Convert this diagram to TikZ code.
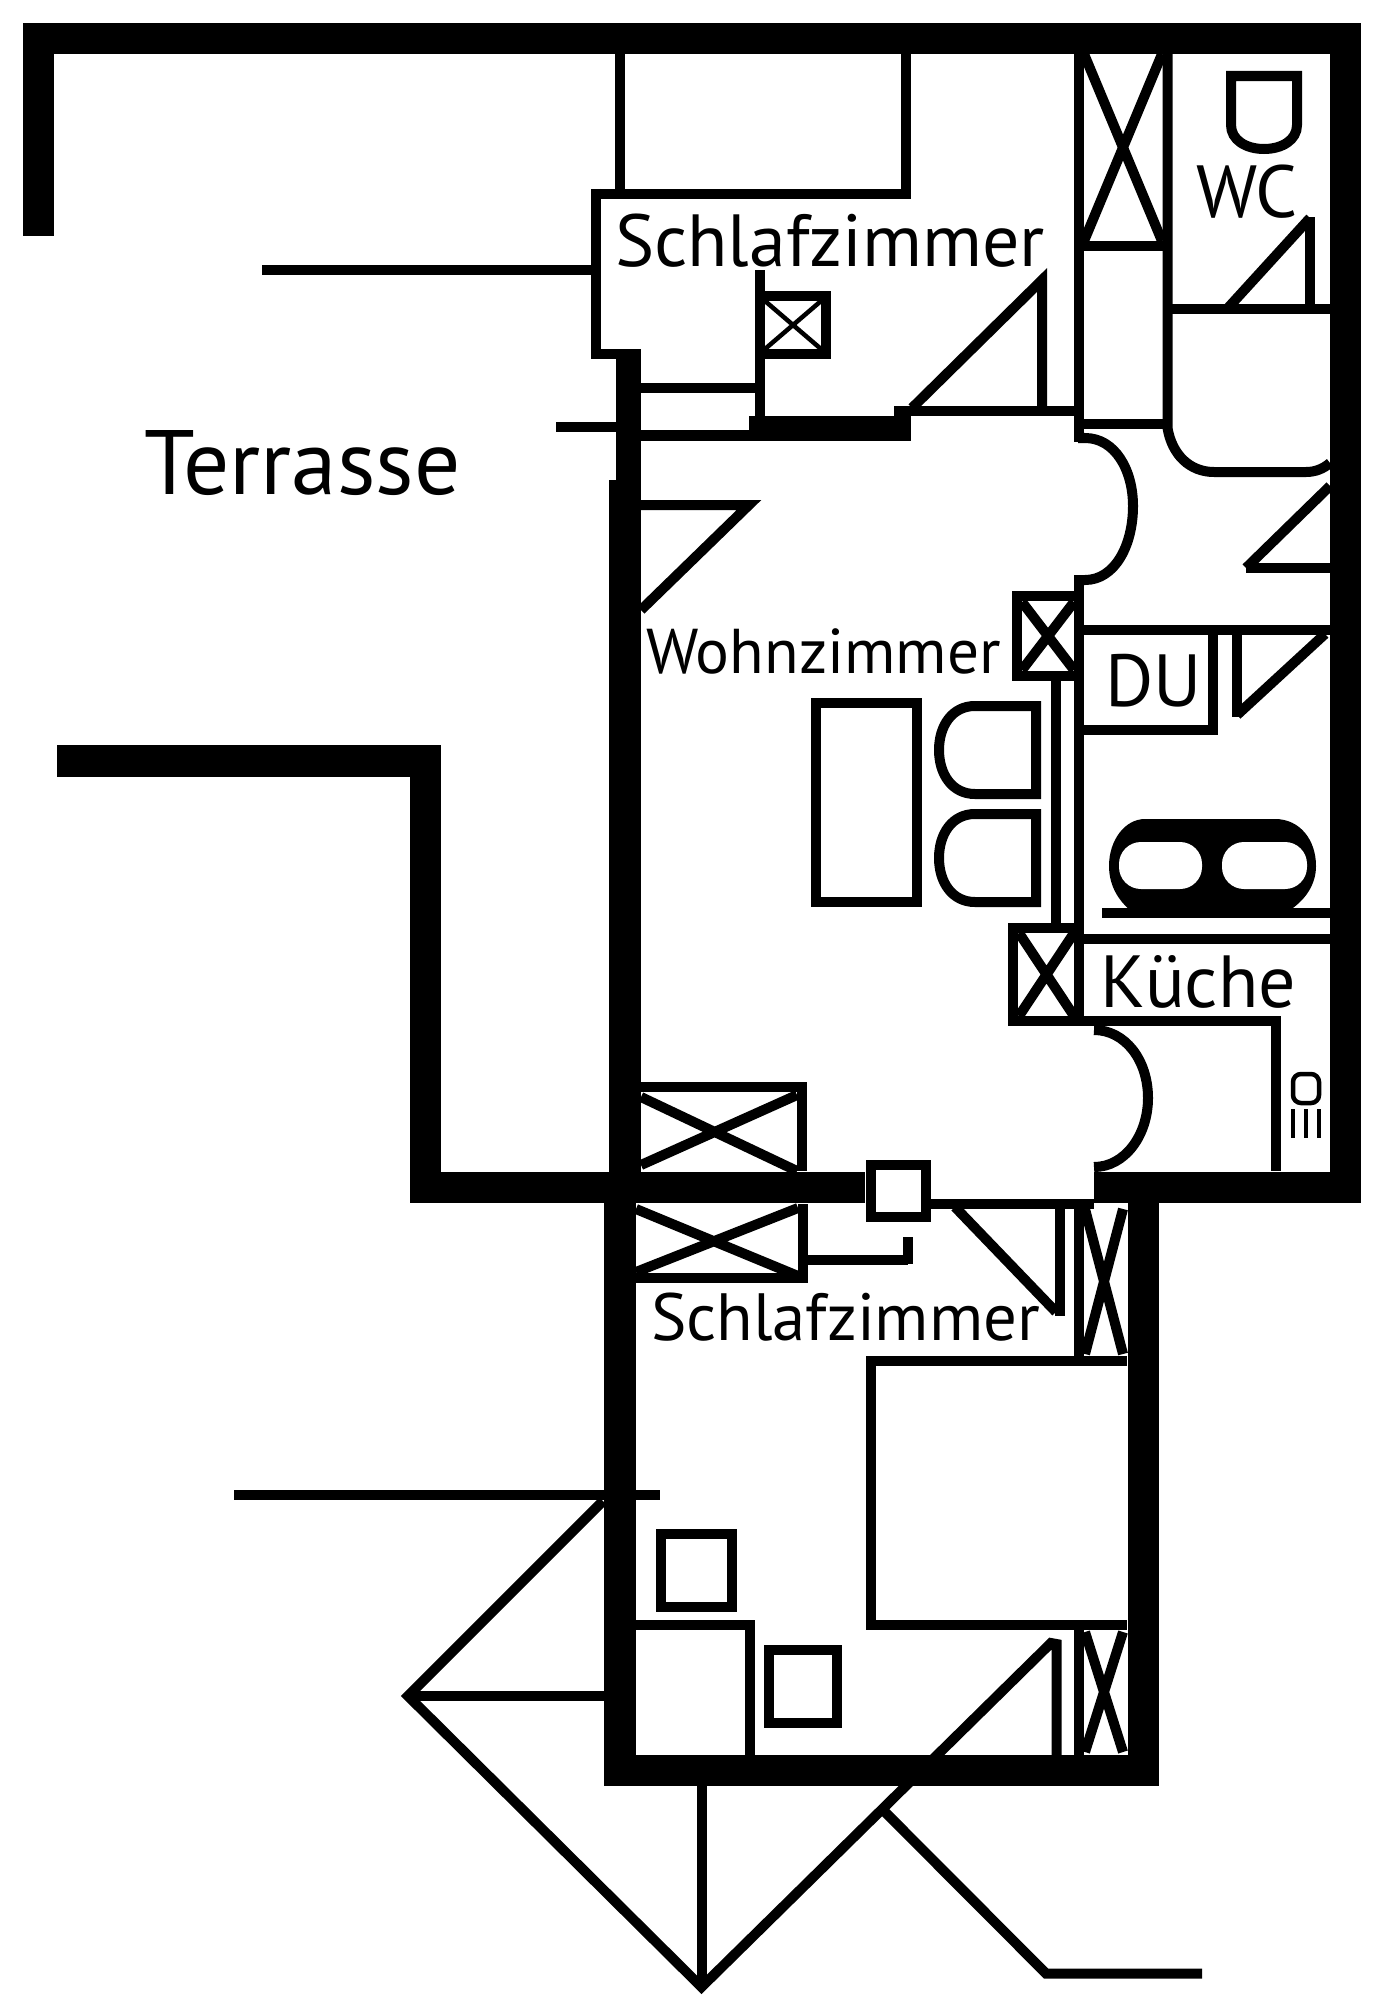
\documentclass[tikz,border=0pt]{standalone}
\usepackage{fontspec}
\setmainfont{PT Sans}
\tikzset{
  wall/.style={draw,line width=3.1mm,miter limit=10},
  partition/.style={draw,line width=1mm,miter limit=20},
  fineline/.style={draw,line width=.45mm},
  blackfill/.style={fill=black},
  roomlabel/.style={anchor=base west,inner sep=0pt,outer sep=0pt,font=\fontsize{21}{21}\selectfont},
  hob/.style={fill=white,rounded corners=.22cm}
}
\begin{document}
\begin{tikzpicture}[x=.01cm,y=-.01cm]
\path[use as bounding box] (0,0) rectangle (1384,2000);

% outer walls
\draw[wall] (38.5,236) -- (38.5,38.5) -- (1345,38.5) -- (1345,1187.5) -- (1094,1187.5);
\draw[wall] (57,761) -- (425.5,761) -- (425.5,1187.5) -- (865,1187.5);
\draw[wall] (620,1172) -- (620,1770.5) -- (1143,1770.5) -- (1143,1172);
\fill[blackfill] (616,349) rectangle (641,480);
\fill[blackfill] (609,480) rectangle (641,1172);
\fill[blackfill] (749,416) rectangle (911,441);
\fill[blackfill] (894,406) rectangle (911,416);

% upper bedroom
\draw[partition] (620,54) -- (620,194);
\draw[partition] (906,54) -- (906,194);
\draw[partition] (596,194) -- (911,194);
\draw[partition] (596,189) -- (596,354) -- (641,354);
\draw[partition] (262,270) -- (596,270);
\draw[partition] (556,427) -- (616,427);
\draw[partition] (641,388) -- (759.5,388);
\draw[partition] (759.5,270) -- (759.5,416);
\draw[partition] (641,435.5) -- (749,435.5);
\draw[partition] (760,296) rectangle (826,354);
\draw[fineline] (765,301) -- (821,349) (821,301) -- (765,349);
\draw[partition] (894,411) -- (1078,411);
\draw[partition] (1042,411) -- (1042,280) -- (912,408);

% closet and bath
\draw[partition] (1078.5,54) -- (1078.5,442);
\draw[partition] (1167.5,54) -- (1167.5,428) .. controls (1172,455) and (1190,472) .. (1214,472) -- (1306,472) .. controls (1315,472) and (1323,469) .. (1330,463);
\draw[partition] (1084,54) -- (1162,241) (1162,54) -- (1084,241);
\draw[partition] (1078,246) -- (1168,246);
\draw[partition] (1078,424) -- (1168,424);
\draw[partition] (1168,309) -- (1330,309);
\draw[partition] (1310,309) -- (1310,217);
\draw[partition] (1227,309) -- (1310,218);
\draw[partition] (1231,154) ++(0,-78) -- (1297,76) -- (1297,125) .. controls (1297,140) and (1282,149) .. (1264,149) .. controls (1246,149) and (1231,140) .. (1231,125) -- cycle;
\draw[partition] (1246,568) -- (1330,568);
\draw[partition] (1246,568) -- (1330,486);

% living room
\draw[partition] (1078,438) -- (1085,438) .. controls (1115,438) and (1133,470) .. (1133,506) .. controls (1133,545) and (1115,580) .. (1085,580) -- (1078,580);
\draw[partition] (1079,575) -- (1079,1026);
\draw[partition] (641,505) -- (749,505) -- (641,610);
\draw[partition] (1017,596) rectangle (1079,676);
\draw[partition] (1022,602) -- (1074,670) (1074,602) -- (1022,670);
\draw[partition] (1056,681) -- (1056,928);
\draw[partition] (1013,928) rectangle (1079,1021);
\draw[partition] (1019,933) -- (1074,1016) (1074,933) -- (1019,1016);
\draw[partition] (816,703) rectangle (917,902);
\draw[partition] (1036,706) -- (975,706) .. controls (952,706) and (939,726) .. (939,750) .. controls (939,774) and (952,794) .. (975,794) -- (1036,794) -- cycle;
\draw[partition] (1036,814) -- (975,814) .. controls (952,814) and (939,834) .. (939,858) .. controls (939,882) and (952,902) .. (975,902) -- (1036,902) -- cycle;
\draw[partition] (641,1087) -- (802,1087) -- (802,1171);
\draw[partition] (641,1097) -- (797,1171) (641,1165) -- (797,1095);

% shower and kitchen
\draw[partition] (1079,630) -- (1330,630);
\draw[partition] (1213,630) -- (1213,735);
\draw[partition] (1079,730) -- (1218,730);
\draw[partition] (1237,630) -- (1237,717);
\draw[partition] (1237,715) -- (1325,634);
\fill[blackfill] (1145,819) -- (1275,819) .. controls (1300,819) and (1316,840) .. (1316,866) .. controls (1316,885) and (1305,900) .. (1290,910) -- (1130,910) .. controls (1118,900) and (1109,885) .. (1109,866) .. controls (1109,840) and (1125,819) .. (1145,819);
\fill[hob] (1119,842) rectangle (1202,889);
\fill[hob] (1222,842) rectangle (1307,889);
\draw[partition] (1102,912.5) -- (1330,912.5);
\draw[partition] (1079,939) -- (1330,939);
\draw[partition] (1079,1021) -- (1276,1021) -- (1276,1171);
\draw[partition] (1094,1030) .. controls (1125,1030) and (1148,1060) .. (1148,1098) .. controls (1148,1135) and (1125,1167) .. (1094,1167);
\draw[fineline,rounded corners=.08cm] (1293,1074) rectangle (1319,1103);
\draw[fineline] (1293,1109) -- (1293,1138);
\draw[fineline] (1306,1109) -- (1306,1138);
\draw[fineline] (1319,1109) -- (1319,1138);

% lower bedroom
\draw[partition] (870.5,1165) rectangle (925.5,1216.5);
\fill[white] (876,1171) rectangle (921,1211);
\draw[partition] (921,1204) -- (1094,1204);
\draw[partition] (636,1278) -- (803,1278) -- (803,1204);
\draw[partition] (636,1209) -- (798,1276) (636,1272) -- (798,1208);
\draw[partition] (808,1260) -- (908,1260);
\draw[partition] (908,1237) -- (908,1264);
\draw[partition] (955,1207) -- (1056,1312);
\draw[partition] (1060,1204) -- (1060,1316);
\draw[partition] (1079,1204) -- (1079,1360);
\draw[partition] (1085,1209) -- (1123,1354) (1123,1209) -- (1085,1354);
\draw[partition] (1127,1360.5) -- (871,1360.5) -- (871,1625) -- (1127,1625);
\draw[partition] (1079,1625) -- (1079,1755);
\draw[partition] (1085,1632) -- (1123,1752) (1123,1632) -- (1085,1752);
\draw[partition] (661,1534) rectangle (732,1607);
\draw[partition] (769,1650) rectangle (837,1723);
\draw[partition] (636,1625) -- (750,1625) -- (750,1755);

% balcony
\draw[partition] (234,1495) -- (660,1495);
\draw[partition] (603,1501) -- (408,1696) -- (701.5,1987) -- (1051,1643) -- (1056.5,1644) -- (1056.5,1755);
\draw[partition] (408,1696) -- (604,1696);
\draw[partition] (701.5,1786) -- (701.5,1987);
\draw[partition] (883,1810) -- (1046,1973.5) -- (1202,1973.5);

% labels
\node[roomlabel] (terrace_label) at (144,494) {\fontsize{26}{26}\selectfont Terrasse};
\node[roomlabel] (upper_bedroom_label) at (615,266) {Schlafzimmer};
\node[roomlabel] (wc_label) at (1196,218) {WC};
\node[roomlabel] (living_label) at (646,673) {\fontsize{18}{18}\selectfont Wohnzimmer};
\node[roomlabel] (shower_label) at (1105,706) {DU};
\node[roomlabel] (kitchen_label) at (1100,1007) {Küche};
\node[roomlabel] (lower_bedroom_label) at (651,1340) {\fontsize{19}{19}\selectfont Schlafzimmer};

\end{tikzpicture}
\end{document}
